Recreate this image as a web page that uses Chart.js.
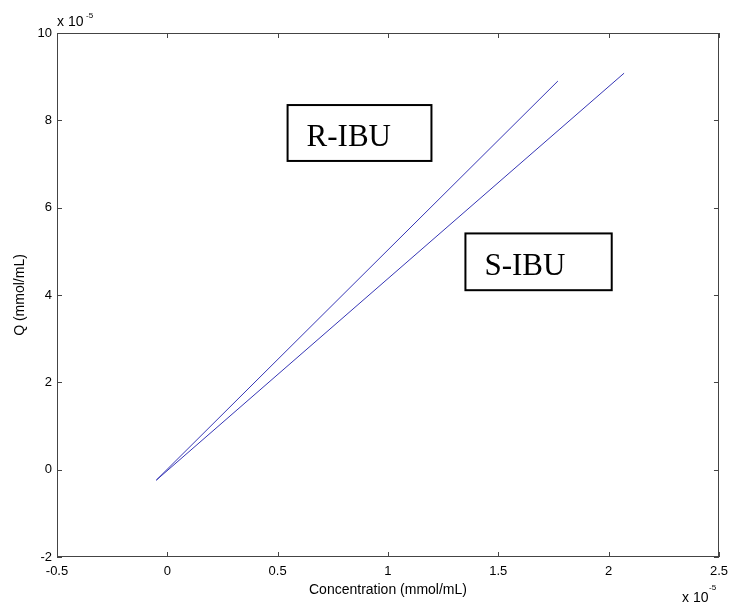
<!DOCTYPE html>
<html>
<head>
<meta charset="utf-8">
<script src="https://cdn.jsdelivr.net/npm/chart.js@4.4.1/dist/chart.umd.min.js"></script>
<style>
  html, body { margin: 0; padding: 0; background: #fff; }
  #wrap { width: 735px; height: 605px; }
</style>
</head>
<body>
<div id="wrap"><canvas id="q-chart" width="735" height="605"></canvas></div>
<script>
'use strict';

// DATA (values in units of 1e-5)

let seriesNames = ['R-IBU', 'S-IBU'];
let rConc = [-0.05, 1.77];
let rQ = [-0.24, 8.9];
let sConc = [-0.05, 2.07];
let sQ = [-0.24, 9.08];

let xTicks = [-0.5, 0, 0.5, 1, 1.5, 2, 2.5];
let xTickLabels = ['-0.5', '0', '0.5', '1', '1.5', '2', '2.5'];
let yTicks = [-2, 0, 2, 4, 6, 8, 10];
let yTickLabels = ['-2', '0', '2', '4', '6', '8', '10'];

// text boxes, in data units: [left, top, right, bottom]
let labelBoxes = [
  [0.545, 8.35, 1.197, 7.07],
  [1.351, 5.41, 2.014, 4.11]
];

let ctx = document.getElementById('q-chart');
let sans = '"Liberation Sans", Arial, Helvetica, sans-serif';

function toPoints(xs, ys) {
  let pts = [];
  for (let i = 0; i < xs.length; i++) {
    pts.push({ x: xs[i], y: ys[i] });
  }
  return pts;
}

// inward ticks, box frame, exponents and labels
let matlabLook = {
  id: 'matlabLook',
  afterDraw(chart) {
    let c = chart.ctx;
    let a = chart.chartArea;
    let xs = chart.scales.x;
    let ys = chart.scales.y;
    let tl = 5;

    c.save();
    c.strokeStyle = '#444';
    c.lineWidth = 1;
    c.strokeRect(Math.round(a.left) + 0.5, Math.round(a.top) + 0.5,
      Math.round(a.right - a.left) - 1, Math.round(a.bottom - a.top) - 1);

    c.beginPath();
    xTicks.forEach(function (v) {
      let px = Math.round(xs.getPixelForValue(v)) + 0.5;
      c.moveTo(px, a.bottom); c.lineTo(px, a.bottom - tl);
      c.moveTo(px, a.top); c.lineTo(px, a.top + tl);
    });
    yTicks.forEach(function (v) {
      let py = Math.round(ys.getPixelForValue(v)) + 0.5;
      c.moveTo(a.left, py); c.lineTo(a.left + tl, py);
      c.moveTo(a.right, py); c.lineTo(a.right - tl, py);
    });
    c.stroke();

    // exponent labels
    c.fillStyle = '#000';
    c.textBaseline = 'alphabetic';
    c.textAlign = 'left';
    c.font = '14px ' + sans;
    c.fillText('x 10', a.left, 26);
    c.fillText('x 10', 682, 602);
    c.font = '8px ' + sans;
    c.fillText('-5', a.left + 29, 18);
    c.fillText('-5', 709, 590);

    // series label boxes
    c.lineWidth = 2;
    c.strokeStyle = '#000';
    c.font = '31px "Liberation Serif", "Times New Roman", serif';
    labelBoxes.forEach(function (b, i) {
      let l = xs.getPixelForValue(b[0]);
      let t = ys.getPixelForValue(b[1]);
      let r = xs.getPixelForValue(b[2]);
      let bt = ys.getPixelForValue(b[3]);
      c.strokeRect(l, t, r - l, bt - t);
      c.fillText(seriesNames[i], l + 19, bt - 15);
    });
    c.restore();
  }
};

let chartObject = {
  type: 'scatter',
  data: {
    datasets: [{
      label: seriesNames[0],
      data: toPoints(rConc, rQ),
      showLine: true,
      borderColor: '#3535b5',
      borderWidth: 1,
      pointRadius: 0
    },
    {
      label: seriesNames[1],
      data: toPoints(sConc, sQ),
      showLine: true,
      borderColor: '#3535b5',
      borderWidth: 1,
      pointRadius: 0
    }]
  },
  options: {
    responsive: false,
    animation: false,
    layout: {
      padding: { top: 33, right: 14, left: 0, bottom: 0 }
    },
    plugins: {
      legend: { display: false },
      tooltip: { enabled: false }
    },
    scales: {
      x: {
        type: 'linear',
        min: -0.5,
        max: 2.5,
        afterBuildTicks: function (s) {
          s.ticks = xTicks.map(function (v) { return { value: v }; });
        },
        afterFit: function (s) { s.height = 48; },
        grid: { display: false, drawTicks: false },
        border: { display: false },
        ticks: {
          color: '#000',
          padding: 7,
          maxRotation: 0,
          callback: function (v, i) { return xTickLabels[i]; },
          font: { family: sans, size: 13 }
        },
        title: {
          display: true,
          text: 'Concentration (mmol/mL)',
          color: '#000',
          padding: { top: 0, bottom: 6 },
          font: { family: sans, size: 14 }
        }
      },
      y: {
        type: 'linear',
        min: -2,
        max: 10,
        afterBuildTicks: function (s) {
          s.ticks = yTicks.map(function (v) { return { value: v }; });
        },
        afterFit: function (s) { s.width = 57; },
        grid: { display: false, drawTicks: false },
        border: { display: false },
        ticks: {
          color: '#000',
          padding: 5,
          callback: function (v, i) { return yTickLabels[i]; },
          font: { family: sans, size: 13 }
        },
        title: {
          display: true,
          text: 'Q (mmol/mL)',
          color: '#000',
          padding: { top: 12, bottom: 0 },
          font: { family: sans, size: 14 }
        }
      }
    }
  },
  plugins: [matlabLook]
};

const qChart = new Chart(ctx, chartObject);
</script>
</body>
</html>
